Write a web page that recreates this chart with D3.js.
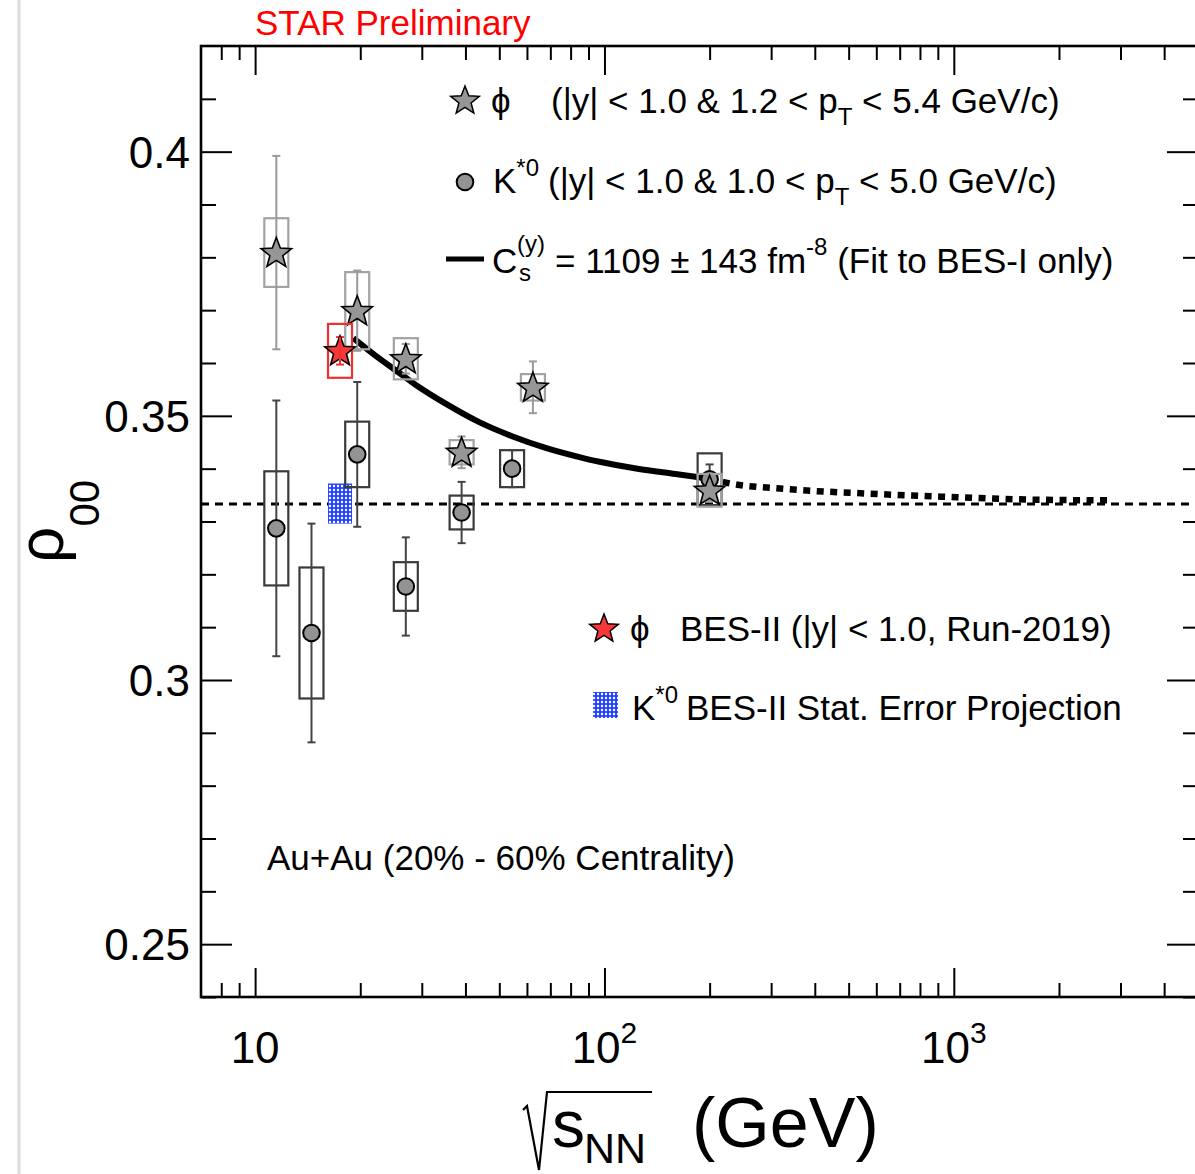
<!DOCTYPE html>
<html>
<head>
<meta charset="utf-8">
<script src="https://cdn.jsdelivr.net/npm/d3@7"></script>
<style>
body { margin: 0; background: #fff; }
text { font-family: "Liberation Sans", Arial, Helvetica, sans-serif; fill: #000; }
</style>
</head>
<body>
<div id="chart"></div>
<script>
// phi meson, BES-I
var phiEnergy = [11.5, 19.6, 27, 39, 62.4, 200];
var phiRho    = [0.3809, 0.3699, 0.3608, 0.3431, 0.3554, 0.3359];
var phiStat   = [0.0183, 0.0076, 0.0028, 0.0030, 0.0049, 0.0020];
var phiSys    = [0.0065, 0.0073, 0.0039, 0.0023, 0.0025, 0.0031];

// K*0, BES-I
var kstEnergy = [11.5, 14.5, 19.6, 27, 39, 54.4, 200];
var kstRho    = [0.3287, 0.3089, 0.3427, 0.3177, 0.3317, 0.3400, 0.3380];
var kstStat   = [0.0242, 0.0207, 0.0137, 0.0093, 0.0058, 0.0035, 0.0028];
var kstSys    = [0.0108, 0.0124, 0.0062, 0.0046, 0.0032, 0.0035, 0.0049];

// phi BES-II (Run-2019)
var bes2Energy = [17.5];
var bes2Rho    = [0.3623];
var bes2Stat   = [0.0026];
var bes2Sys    = [0.0051];

// K*0 BES-II projection
var projEnergy = [17.5];
var projRho    = [0.3334];
var projErr    = [0.0038];

// fit curve (solid part, then extrapolation)
var fitEnergy = [19.1, 22.2, 25.9, 29.5, 35.3, 43.8, 54.6, 68.2, 84.8, 96.8, 124.3, 159.7, 200];
var fitRho    = [0.3647, 0.3613, 0.3581, 0.3554, 0.3522, 0.3488, 0.3461, 0.3439, 0.3422, 0.3413, 0.3400, 0.3390, 0.3381];
var extEnergy = [200, 221, 338, 558, 921, 1515, 2772];
var extRho    = [0.3381, 0.3374, 0.3361, 0.3353, 0.3347, 0.3342, 0.3340];

var baseline = 1 / 3;

// ticks
var xMajor = [10, 100, 1000];
var xMinor = [8, 9, 20, 30, 40, 50, 60, 70, 80, 90, 200, 300, 400, 500, 600, 700, 800, 900, 2000, 3000, 4000];
var xLabelBase = ["10", "10", "10"];
var xLabelExp = ["", "2", "3"];
var yMajor = [0.25, 0.30, 0.35, 0.40];
var yMinor = [0.24, 0.26, 0.27, 0.28, 0.29, 0.31, 0.32, 0.33, 0.34, 0.36, 0.37, 0.38, 0.39, 0.41];
var yLabels = ["0.25", "0.3", "0.35", "0.4"];

var W = 1195, H = 1174;
var margin = {left: 201, top: 46, right: 1198, bottom: 997};

var svg = d3.select("#chart").append("svg")
  .attr("width", W).attr("height", H);

var defs = svg.append("defs");
var pat = defs.append("pattern")
  .attr("id", "dots").attr("patternUnits", "userSpaceOnUse")
  .attr("width", 4).attr("height", 4);
pat.append("rect").attr("width", 4).attr("height", 4).attr("fill", "#2242ff");
pat.append("circle").attr("cx", 2).attr("cy", 2).attr("r", 1.2).attr("fill", "#fff");

// faint page edge on the left
svg.append("line").attr("x1", 19).attr("x2", 19).attr("y1", 0).attr("y2", H)
  .attr("stroke", "#dcdcdc").attr("stroke-width", 3);

var x = d3.scaleLog().domain([7, 5000]).range([margin.left, margin.right]);
var y = d3.scaleLinear().domain([0.24, 0.42]).range([margin.bottom, margin.top]);

function starPath(R, r) {
  var pts = [];
  for (var i = 0; i < 10; i++) {
    var a = -Math.PI / 2 + i * Math.PI / 5;
    var rad = i % 2 ? r : R;
    pts.push([rad * Math.cos(a), rad * Math.sin(a)]);
  }
  return "M" + pts.map(function(p) { return p[0].toFixed(2) + "," + p[1].toFixed(2); }).join("L") + "Z";
}
var star = starPath(16, 6.8);

// axes
function styleAxis(g) {
  g.select(".domain").remove();
  g.selectAll(".tick line").attr("stroke", "#000").attr("stroke-width", 2);
}
svg.append("g").attr("transform", "translate(0," + margin.bottom + ")")
  .call(d3.axisBottom(x).tickValues(xMajor).tickSize(-29).tickFormat("")).call(styleAxis);
svg.append("g").attr("transform", "translate(0," + margin.bottom + ")")
  .call(d3.axisBottom(x).tickValues(xMinor).tickSize(-14).tickFormat("")).call(styleAxis);
svg.append("g").attr("transform", "translate(0," + margin.top + ")")
  .call(d3.axisTop(x).tickValues(xMajor).tickSize(-29).tickFormat("")).call(styleAxis);
svg.append("g").attr("transform", "translate(0," + margin.top + ")")
  .call(d3.axisTop(x).tickValues(xMinor).tickSize(-14).tickFormat("")).call(styleAxis);
svg.append("g").attr("transform", "translate(" + margin.left + ",0)")
  .call(d3.axisLeft(y).tickValues(yMajor).tickSize(-31).tickFormat("")).call(styleAxis);
svg.append("g").attr("transform", "translate(" + margin.left + ",0)")
  .call(d3.axisLeft(y).tickValues(yMinor).tickSize(-15).tickFormat("")).call(styleAxis);
svg.append("g").attr("transform", "translate(" + margin.right + ",0)")
  .call(d3.axisRight(y).tickValues(yMajor).tickSize(-31).tickFormat("")).call(styleAxis);
svg.append("g").attr("transform", "translate(" + margin.right + ",0)")
  .call(d3.axisRight(y).tickValues(yMinor).tickSize(-15).tickFormat("")).call(styleAxis);

svg.append("rect")
  .attr("x", margin.left).attr("y", margin.top)
  .attr("width", margin.right - margin.left).attr("height", margin.bottom - margin.top)
  .attr("fill", "none").attr("stroke", "#000").attr("stroke-width", 2.6);

// tick labels
svg.selectAll(".ylab").data(yMajor).enter().append("text")
  .attr("x", 190).attr("y", function(d) { return y(d) + 16; })
  .attr("text-anchor", "end").style("font-size", "44px")
  .text(function(d, i) { return yLabels[i]; });

var xl = svg.selectAll(".xlab").data(xMajor).enter().append("text")
  .attr("x", function(d) { return x(d); }).attr("y", 1063)
  .attr("text-anchor", "middle").style("font-size", "44px");
xl.append("tspan").text(function(d, i) { return xLabelBase[i]; });
xl.append("tspan").attr("dy", -20).style("font-size", "30px")
  .text(function(d, i) { return xLabelExp[i]; });

// axis titles
svg.append("path").attr("d", "M523,1110 L527,1106 L539,1170 L547,1092 L652,1092")
  .attr("fill", "none").attr("stroke", "#000").attr("stroke-width", 2.2);
svg.append("text").attr("x", 552).attr("y", 1147).style("font-size", "66px").text("s");
svg.append("text").attr("x", 584).attr("y", 1163).style("font-size", "43px").text("NN");
svg.append("text").attr("x", 692).attr("y", 1147).style("font-size", "70px").text("(GeV)");

var yt = svg.append("text").attr("transform", "translate(63,563) rotate(-90)")
  .style("font-size", "64px");
yt.append("tspan").text("ρ");
yt.append("tspan").attr("dy", 36).style("font-size", "42px").text("00");

svg.append("text").attr("x", 255).attr("y", 35).style("font-size", "35px")
  .style("fill", "#ff0000").text("STAR Preliminary");

// baseline 1/3
svg.append("line")
  .attr("x1", margin.left).attr("x2", margin.right)
  .attr("y1", y(baseline)).attr("y2", y(baseline))
  .attr("stroke", "#000").attr("stroke-width", 3).attr("stroke-dasharray", "8,6");

// fit curve
var line = d3.line().x(function(d) { return x(d[0]); }).y(function(d) { return y(d[1]); })
  .curve(d3.curveMonotoneX);
svg.append("path").attr("d", line(d3.zip(fitEnergy, fitRho)))
  .attr("fill", "none").attr("stroke", "#000").attr("stroke-width", 6);
svg.append("path").attr("d", line(d3.zip(extEnergy, extRho)))
  .attr("fill", "none").attr("stroke", "#000").attr("stroke-width", 6.5)
  .attr("stroke-dasharray", "7,6.5");

// helper to draw error bars and systematic boxes
function drawPoints(E, V, stat, sys, sysColor, statColor) {
  var g = svg.append("g");
  var data = E.map(function(e, i) { return {e: e, v: V[i], st: stat[i], sy: sys[i]}; });
  g.selectAll("rect").data(data).enter().append("rect")
    .attr("x", function(d) { return x(d.e) - 12; })
    .attr("width", 24)
    .attr("y", function(d) { return y(d.v + d.sy); })
    .attr("height", function(d) { return y(d.v - d.sy) - y(d.v + d.sy); })
    .attr("fill", "none").attr("stroke", sysColor).attr("stroke-width", 2.2);
  g.selectAll(".eb").data(data).enter().append("line")
    .attr("x1", function(d) { return x(d.e); }).attr("x2", function(d) { return x(d.e); })
    .attr("y1", function(d) { return y(d.v + d.st); }).attr("y2", function(d) { return y(d.v - d.st); })
    .attr("stroke", statColor).attr("stroke-width", 2);
  g.selectAll(".capt").data(data).enter().append("line")
    .attr("x1", function(d) { return x(d.e) - 4; }).attr("x2", function(d) { return x(d.e) + 4; })
    .attr("y1", function(d) { return y(d.v + d.st); }).attr("y2", function(d) { return y(d.v + d.st); })
    .attr("stroke", statColor).attr("stroke-width", 2);
  g.selectAll(".capb").data(data).enter().append("line")
    .attr("x1", function(d) { return x(d.e) - 4; }).attr("x2", function(d) { return x(d.e) + 4; })
    .attr("y1", function(d) { return y(d.v - d.st); }).attr("y2", function(d) { return y(d.v - d.st); })
    .attr("stroke", statColor).attr("stroke-width", 2);
  return g;
}

// K*0 BES-II projection box
svg.selectAll(".proj").data(projEnergy).enter().append("rect")
  .attr("x", function(d) { return x(d) - 12; }).attr("width", 24)
  .attr("y", function(d, i) { return y(projRho[i] + projErr[i]); })
  .attr("height", function(d, i) { return y(projRho[i] - projErr[i]) - y(projRho[i] + projErr[i]); })
  .attr("fill", "url(#dots)");

// K*0
var gk = drawPoints(kstEnergy, kstRho, kstStat, kstSys, "#3a3a3a", "#444");
gk.selectAll("circle").data(kstEnergy).enter().append("circle")
  .attr("cx", function(d) { return x(d); }).attr("cy", function(d, i) { return y(kstRho[i]); })
  .attr("r", 8.3).attr("fill", "#939393").attr("stroke", "#000").attr("stroke-width", 2);

// phi BES-I
var gp = drawPoints(phiEnergy, phiRho, phiStat, phiSys, "#a3a3a3", "#9a9a9a");
gp.selectAll("path").data(phiEnergy).enter().append("path")
  .attr("d", star)
  .attr("transform", function(d, i) { return "translate(" + x(d) + "," + (y(phiRho[i]) + 1) + ")"; })
  .attr("fill", "#969696").attr("stroke", "#000").attr("stroke-width", 1.6);

// phi BES-II
var gr = drawPoints(bes2Energy, bes2Rho, bes2Stat, bes2Sys, "#f03030", "#f03030");
gr.selectAll("path").data(bes2Energy).enter().append("path")
  .attr("d", star)
  .attr("transform", function(d, i) { return "translate(" + x(d) + "," + (y(bes2Rho[i]) + 1) + ")"; })
  .attr("fill", "#f83838").attr("stroke", "#000").attr("stroke-width", 1.6);
// redraw red stat bar on top of the marker
gr.append("line")
  .attr("x1", x(bes2Energy[0])).attr("x2", x(bes2Energy[0]))
  .attr("y1", y(bes2Rho[0] + bes2Stat[0])).attr("y2", y(bes2Rho[0] - bes2Stat[0]))
  .attr("stroke", "#f03030").attr("stroke-width", 2);

// legend
var lg = svg.append("g").style("font-size", "35px");
lg.append("path").attr("d", starPath(15, 6.4)).attr("transform", "translate(465,101)")
  .attr("fill", "#969696").attr("stroke", "#000").attr("stroke-width", 1.5);
lg.append("text").attr("x", 491).attr("y", 113).text("ϕ");
var t1 = lg.append("text").attr("x", 551).attr("y", 113);
t1.append("tspan").text("(|y| < 1.0 & 1.2 < p");
t1.append("tspan").attr("dy", 12).style("font-size", "24px").text("T");
t1.append("tspan").attr("dy", -12).text(" < 5.4 GeV/c)");

lg.append("circle").attr("cx", 465).attr("cy", 182).attr("r", 8.3)
  .attr("fill", "#939393").attr("stroke", "#000").attr("stroke-width", 2);
var t2 = lg.append("text").attr("x", 493).attr("y", 193);
t2.append("tspan").text("K");
t2.append("tspan").attr("dy", -17).style("font-size", "24px").text("*0");
t2.append("tspan").attr("dy", 17).attr("x", 548).text("(|y| < 1.0 & 1.0 < p");
t2.append("tspan").attr("dy", 12).style("font-size", "24px").text("T");
t2.append("tspan").attr("dy", -12).text(" < 5.0 GeV/c)");

lg.append("line").attr("x1", 446).attr("x2", 484).attr("y1", 259).attr("y2", 259)
  .attr("stroke", "#000").attr("stroke-width", 5);
lg.append("text").attr("x", 492).attr("y", 273).text("C");
lg.append("text").attr("x", 517).attr("y", 252).style("font-size", "24px").text("(y)");
lg.append("text").attr("x", 519).attr("y", 281).style("font-size", "24px").text("s");
var t3 = lg.append("text").attr("x", 555).attr("y", 273);
t3.append("tspan").text("= 1109 ± 143 fm");
t3.append("tspan").attr("dy", -18).style("font-size", "24px").text("-8");
t3.append("tspan").attr("dy", 18).text(" (Fit to BES-I only)");

lg.append("path").attr("d", starPath(15, 6.4)).attr("transform", "translate(604,629)")
  .attr("fill", "#f83838").attr("stroke", "#000").attr("stroke-width", 1.5);
lg.append("text").attr("x", 630).attr("y", 641).text("ϕ");
lg.append("text").attr("x", 680).attr("y", 641).text("BES-II (|y| < 1.0, Run-2019)");

lg.append("rect").attr("x", 593).attr("y", 692).attr("width", 25).attr("height", 26)
  .attr("fill", "url(#dots)");
var t5 = lg.append("text").attr("x", 632).attr("y", 720);
t5.append("tspan").text("K");
t5.append("tspan").attr("dy", -17).style("font-size", "24px").text("*0");
t5.append("tspan").attr("dy", 17).attr("x", 686).text("BES-II Stat. Error Projection");

lg.append("text").attr("x", 267).attr("y", 870).text("Au+Au (20% - 60% Centrality)");
</script>
</body>
</html>
